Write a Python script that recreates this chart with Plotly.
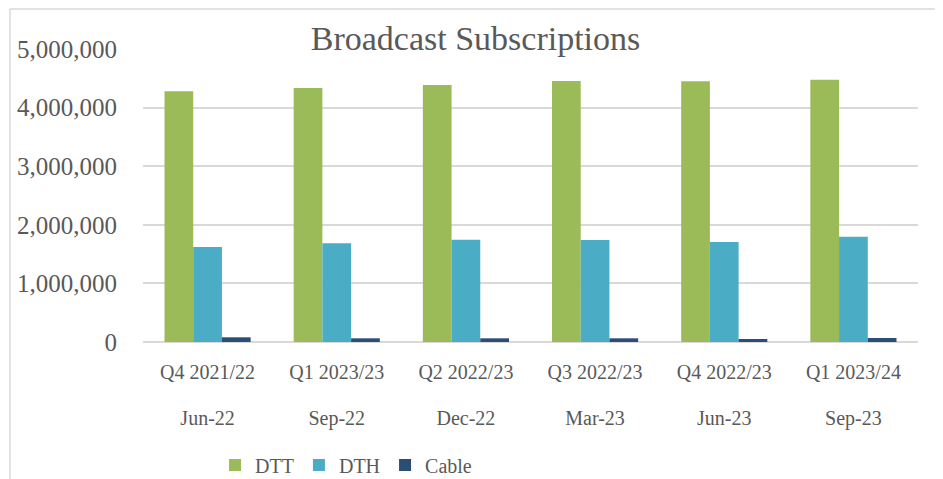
"""Broadcast subscriptions by quarter, grouped bar chart."""
import plotly.graph_objects as go

QUARTERS = ["Q4 2021/22", "Q1 2023/23", "Q2 2022/23", "Q3 2022/23", "Q4 2022/23", "Q1 2023/24"]
MONTHS = ["Jun-22", "Sep-22", "Dec-22", "Mar-23", "Jun-23", "Sep-23"]

DTT = [4280000, 4335000, 4387000, 4454000, 4450000, 4477000]
DTH = [1622000, 1684000, 1746000, 1741000, 1707000, 1797000]
CABLE = [80000, 63000, 63000, 63000, 51000, 68000]

Y_TICKS = [0, 1000000, 2000000, 3000000, 4000000, 5000000]

_COLORS = {"DTT": "#9BBB59", "DTH": "#4BACC6", "Cable": "#2C4D75"}
_TEXT = "#595959"
_GRID = "#D9D9D9"
_SERIF = "Liberation Serif, Times New Roman, serif"

# page has an 8px body margin, so the figure is a little smaller than the window
W, H = 935, 471
L, R, T, B = 135, 25, 41, 137

fig = go.Figure()
for name, vals in (("DTT", DTT), ("DTH", DTH), ("Cable", CABLE)):
    fig.add_trace(go.Bar(
        x=QUARTERS, y=vals, name=name,
        marker=dict(color=_COLORS[name], line=dict(width=0)),
    ))

# invisible helper so the second row of category labels (months) gets its own axis
fig.add_trace(go.Scatter(
    x=MONTHS, y=[0] * len(MONTHS), xaxis="x2", mode="markers",
    marker=dict(opacity=0), showlegend=False, hoverinfo="skip",
))

# Excel-style chart frame (top and left edges visible)
pw, ph = W - L - R, H - T - B
fx0 = (2 - L) / pw
fy1 = (H - B - 1) / ph
fig.add_shape(type="line", xref="paper", yref="paper",
              x0=fx0, x1=(W - L) / pw, y0=fy1, y1=fy1,
              line=dict(color=_GRID, width=1.5), layer="below")
fig.add_shape(type="line", xref="paper", yref="paper",
              x0=fx0, x1=fx0, y0=fy1, y1=-(B + 5) / ph,
              line=dict(color=_GRID, width=1.5), layer="below")

cat_range = [-0.5, len(QUARTERS) - 0.5]

fig.update_layout(
    width=W, height=H,
    margin=dict(l=L, r=R, t=T, b=B, pad=0, autoexpand=False),
    paper_bgcolor="white", plot_bgcolor="white",
    barmode="group", bargap=0.333, bargroupgap=0,
    font=dict(family=_SERIF, color=_TEXT),
    title=dict(text="Broadcast Subscriptions", x=0.5, xanchor="center",
               yref="container", y=1 - 30 / H, yanchor="middle",
               font=dict(size=34, color=_TEXT, family=_SERIF)),
    showlegend=True,
    legend=dict(orientation="h", x=0.262, xanchor="center",
                yref="container", y=14 / H, yanchor="middle",
                font=dict(size=20, color=_TEXT, family=_SERIF), itemwidth=30,
                traceorder="normal"),
    xaxis=dict(range=cat_range, showgrid=False, showline=False, ticks="",
               automargin=False, tickfont=dict(size=20, color=_TEXT, family=_SERIF),
               ticklabelstandoff=16),
    xaxis2=dict(range=cat_range, overlaying="x", side="bottom", anchor="y",
                showgrid=False, showline=False, ticks="", automargin=False,
                zeroline=False, tickfont=dict(size=20, color=_TEXT, family=_SERIF),
                ticklabelstandoff=62),
    yaxis=dict(range=[0, 5000000], tickvals=Y_TICKS, tickformat=",d",
               showgrid=True, gridcolor=_GRID, gridwidth=1.5,
               zeroline=True, zerolinecolor=_GRID, zerolinewidth=1.5,
               showline=False, ticks="", ticklabelstandoff=25, automargin=False,
               tickfont=dict(size=25, color=_TEXT, family=_SERIF)),
)

fig.write_html("out.html")
